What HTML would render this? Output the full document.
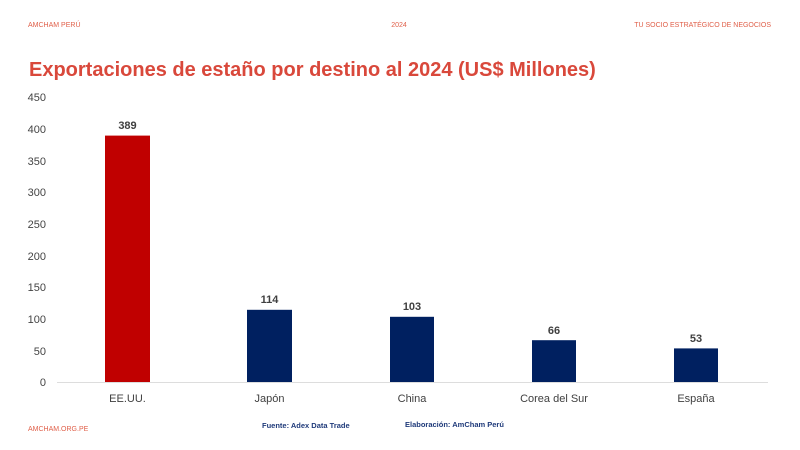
<!DOCTYPE html>
<html><head><meta charset="utf-8"><style>
body{margin:0;width:800px;height:450px;background:#fff;overflow:hidden;font-family:"Liberation Sans",sans-serif;}
svg{position:absolute;left:0;top:0}
</style></head><body>
<svg width="800" height="450" xmlns="http://www.w3.org/2000/svg" font-family="Liberation Sans, sans-serif">
<text x="28" y="27" font-size="7" fill="#e0604a">AMCHAM PERÚ</text>
<text x="399" y="27" font-size="7" fill="#e0604a" text-anchor="middle">2024</text>
<text x="771" y="27" font-size="7" fill="#e0604a" text-anchor="end">TU SOCIO ESTRATÉGICO  DE NEGOCIOS</text>
<text x="29" y="76" font-size="20" font-weight="bold" fill="#d9483b">Exportaciones de estaño por destino al 2024 (US$ Millones)</text>
<g font-size="11" fill="#444" text-anchor="end">
<text x="46" y="386">0</text><text x="46" y="355">50</text><text x="46" y="323">100</text>
<text x="46" y="291">150</text><text x="46" y="260">200</text><text x="46" y="228">250</text>
<text x="46" y="196">300</text><text x="46" y="165">350</text><text x="46" y="133">400</text><text x="46" y="101">450</text>
</g>
<line x1="57" y1="382.5" x2="768" y2="382.5" stroke="#ddd" stroke-width="1"/>
<rect x="105" y="135.6" width="45" height="246.4" fill="#c00000"/>
<rect x="247" y="309.8" width="45" height="72.2" fill="#002060"/>
<rect x="390" y="316.8" width="44" height="65.2" fill="#002060"/>
<rect x="532" y="340.2" width="44" height="41.8" fill="#002060"/>
<rect x="674" y="348.4" width="44" height="33.6" fill="#002060"/>
<g font-size="11" font-weight="bold" fill="#404040" text-anchor="middle">
<text x="127.5" y="129">389</text><text x="269.5" y="303">114</text><text x="412" y="310">103</text>
<text x="554" y="334">66</text><text x="696" y="342">53</text>
</g>
<g font-size="11" fill="#404040" text-anchor="middle">
<text x="127.5" y="402">EE.UU.</text><text x="269.5" y="402">Japón</text><text x="412" y="402">China</text>
<text x="554" y="402">Corea del Sur</text><text x="696" y="402">España</text>
</g>
<text x="28" y="431" font-size="7" fill="#e0604a">AMCHAM.ORG.PE</text>
<text x="262" y="428" font-size="7.5" font-weight="bold" fill="#1f3a7a">Fuente: Adex Data Trade</text>
<text x="405" y="427" font-size="7.5" font-weight="bold" fill="#1f3a7a">Elaboración: AmCham Perú</text>
</svg>
</body></html>
